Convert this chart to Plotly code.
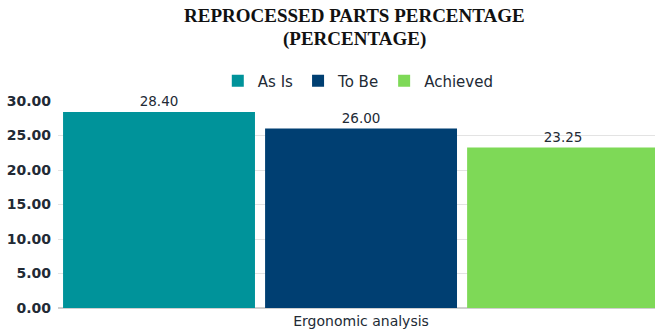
import plotly.graph_objects as go

categories = ["Ergonomic analysis"]
series_names = ["As Is", "To Be", "Achieved"]
series_values = [[28.40], [26.00], [23.25]]
series_colors = ["#00939A", "#003F72", "#7ED957"]
y_ticks = [0, 5, 10, 15, 20, 25, 30]
title_lines = ["REPROCESSED PARTS PERCENTAGE", "(PERCENTAGE)"]

FONT = "DejaVu Sans"
TXT = "#222a35"

fig = go.Figure()
for name, vals, col in zip(series_names, series_values, series_colors):
    fig.add_trace(go.Bar(
        name=name, x=categories, y=vals, marker_color=col, marker_line_width=0,
        text=vals, texttemplate="%{y:.2f}", textposition="outside", cliponaxis=False,
        textfont=dict(family=FONT, size=13.5, color=TXT),
    ))

for line, ypix in zip(title_lines, [16, 39]):
    fig.add_annotation(
        text=line, xref="paper", yref="paper", x=0.497, y=(308 - ypix) / 207,
        xanchor="center", yanchor="middle", showarrow=False,
        font=dict(family="Liberation Serif", size=19, color="#111111", weight="bold"),
    )

fig.update_layout(
    width=655, height=333,
    margin=dict(l=58, r=0, t=101, b=25),
    paper_bgcolor="white", plot_bgcolor="white",
    barmode="group", bargap=0, bargroupgap=0.05,
    legend=dict(orientation="h", x=0.503, xanchor="center", y=1.097, yanchor="middle",
                font=dict(family=FONT, size=15, color=TXT),
                itemwidth=30, traceorder="normal"),
    showlegend=True,
)
fig.update_xaxes(range=[-0.5, 0.485], showline=False, ticks="", ticklabelstandoff=3,
                 tickfont=dict(family=FONT, size=14, color=TXT))
fig.update_yaxes(range=[0, 30], tickvals=y_ticks, tickformat=".2f",
                 showgrid=True, gridcolor="#e3e3e3", gridwidth=1,
                 zeroline=True, zerolinecolor="#cfcfcf", zerolinewidth=2,
                 tickfont=dict(family=FONT, size=14, color=TXT, weight="bold"),
                 ticks="", ticklabelstandoff=6)

fig.write_html("out.html")
